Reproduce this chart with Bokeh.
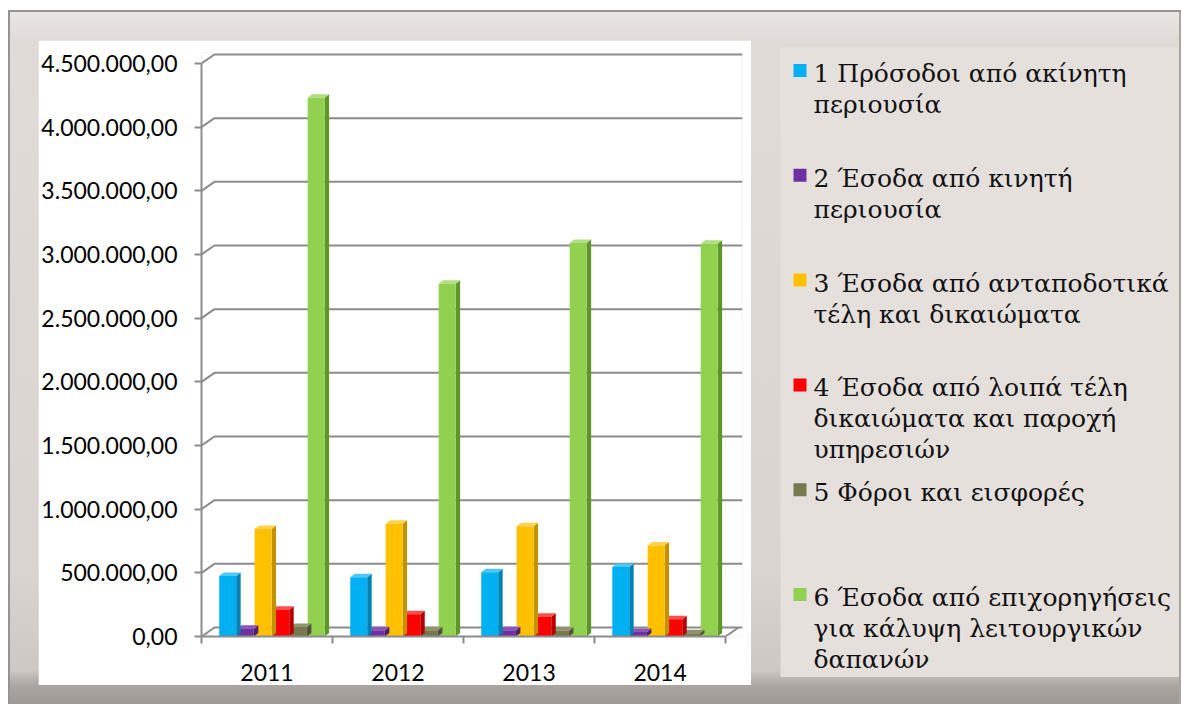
import numpy as np
from bokeh.plotting import figure
from bokeh.layouts import row, column
from bokeh.models import Range1d, FixedTicker
from bokeh.core.properties import value
from bokeh.embed import file_html
from bokeh.resources import INLINE

# ---------------- data ----------------
years = ["2011", "2012", "2013", "2014"]
series_labels = [
    "1 Πρόσοδοι από ακίνητη\nπεριουσία",
    "2 Έσοδα από κινητή\nπεριουσία",
    "3 Έσοδα από ανταποδοτικά\nτέλη και δικαιώματα",
    "4 Έσοδα από λοιπά τέλη\nδικαιώματα και παροχή\nυπηρεσιών",
    "5 Φόροι και εισφορές",
    "6 Έσοδα από επιχορηγήσεις\nγια κάλυψη λειτουργικών\nδαπανών",
]
s1_property = [475000, 465000, 505000, 545000]
s2_movable = [60000, 50000, 50000, 35000]
s3_fees = [845000, 885000, 865000, 715000]
s4_other_fees = [210000, 175000, 155000, 135000]
s5_taxes = [75000, 50000, 45000, 25000]
s6_grants = [4230000, 2770000, 3090000, 3085000]
series_values = [s1_property, s2_movable, s3_fees, s4_other_fees, s5_taxes, s6_grants]

y_ticks = [0, 500000, 1000000, 1500000, 2000000, 2500000, 3000000, 3500000, 4000000, 4500000]
y_tick_labels = ["0,00", "500.000,00", "1.000.000,00", "1.500.000,00", "2.000.000,00",
                 "2.500.000,00", "3.000.000,00", "3.500.000,00", "4.000.000,00", "4.500.000,00"]

# colours: front, side, top
front_colors = ["#00b0f0", "#7030a0", "#ffc000", "#ff0000", "#76784e", "#92d050"]
side_colors = ["#0083b4", "#4e1f72", "#c29200", "#b50000", "#50523a", "#5e9628"]
top_colors = ["#4cc8f5", "#8d55b8", "#ffd24d", "#ff4d4d", "#90926c", "#b0de80"]

# ---------------- chart figure geometry ----------------
CW, CH = 713, 645
FL, FR, FT, FB = 161, 704, 12, 596
PX_CAT = 131.5
PX_VAL = 63.67 / 500000.0

chart = figure(width=CW, height=CH, output_backend="svg", toolbar_location=None,
               x_range=Range1d(0, (FR - FL) / PX_CAT), y_range=Range1d(0, (FB - FT) / PX_VAL),
               min_border_left=FL, min_border_right=CW - FR, min_border_top=FT,
               min_border_bottom=CH - FB, margin=(30, 0, 19, 30))
chart.outline_line_color = None
chart.background_fill_color = "white"
chart.border_fill_color = "white"
chart.xgrid.visible = False
chart.ygrid.visible = False

# ---------------- 3D-ish grid ----------------
DXB = 13 / PX_CAT
DVB = 9 / PX_VAL
xend = (FR - FL) / PX_CAT
ncat = len(years)
gx = [[0, DXB, xend] for t in y_ticks]
gy = [[t, t + DVB, t + DVB] for t in y_ticks]
gx.append([ncat, ncat + DXB])
gy.append([0, DVB])
chart.multi_line(gx, gy, line_color="#8c8c8c", line_width=2)

# ---------------- bars ----------------
BW = 17 / PX_CAT
SD = 4.5 / PX_CAT
DVS = 3.5 / PX_VAL
offsets = 0.2 + 0.135 * np.arange(len(series_values))
cat_idx = np.arange(ncat)

for j in reversed(range(len(series_values))):
    vals = np.array(series_values[j], dtype=float)
    xc = cat_idx + offsets[j]
    xl = xc - BW / 2
    xr = xc + BW / 2
    side_xs = [[r, r + SD, r + SD, r] for r in xr]
    side_ys = [[0, DVS, v + DVS, v] for v in vals]
    top_xs = [[l, r, r + SD, l + SD] for l, r in zip(xl, xr)]
    top_ys = [[v, v, v + DVS, v + DVS] for v in vals]
    chart.patches(side_xs, side_ys, fill_color=side_colors[j], line_color=None)
    chart.patches(top_xs, top_ys, fill_color=top_colors[j], line_color=None)
    chart.vbar(x=xc, top=vals, bottom=0, width=BW, fill_color=front_colors[j], line_color=None)

# ---------------- axes ----------------
AX_COL = "#8c8c8c"
yax = chart.yaxis[0]
yax.ticker = FixedTicker(ticks=y_ticks)
yax.major_label_overrides = {t: l for t, l in zip(y_ticks, y_tick_labels)}
yax.bounds = (0, y_ticks[-1])
yax.axis_line_color = AX_COL
yax.axis_line_width = 2
yax.major_tick_line_color = AX_COL
yax.major_tick_line_width = 2
yax.major_tick_out = 7
yax.major_tick_in = 0
yax.minor_tick_line_color = None
yax.major_label_standoff = 17
yax.major_label_text_font = "Lato"
yax.major_label_text_font_size = "23px"
yax.major_label_text_color = "#000000"

xax = chart.xaxis[0]
centers = [i + 0.5 for i in range(ncat)]
xax.ticker = FixedTicker(ticks=centers, minor_ticks=list(range(ncat + 1)))
xax.major_label_overrides = {c: y for c, y in zip(centers, years)}
xax.bounds = (0, ncat)
xax.axis_line_color = AX_COL
xax.axis_line_width = 2
xax.major_tick_line_color = None
xax.major_tick_out = 0
xax.major_tick_in = 0
xax.minor_tick_line_color = AX_COL
xax.minor_tick_line_width = 2
xax.minor_tick_out = 7
xax.minor_tick_in = 0
xax.major_label_standoff = 20
xax.major_label_text_font = "Lato"
xax.major_label_text_font_size = "23px"
xax.major_label_text_color = "#000000"

# ---------------- legend figure ----------------
LW, LH = 399, 630
leg = figure(width=LW, height=LH, output_backend="svg", toolbar_location=None,
             x_range=Range1d(0, LW), y_range=Range1d(LH, 0),
             x_axis_type=None, y_axis_type=None, min_border=0)
leg.outline_line_color = None
leg.background_fill_color = "#e6e0dd"
leg.border_fill_color = "#e6e0dd"
leg.xgrid.visible = False
leg.ygrid.visible = False

LEG_TEXT_X = 33
LEG_SQ_X = 19.5
LEG_FIRST = 26
LEG_PITCH = 104.8
LEG_LINE = 31
txt_x, txt_y, txt = [], [], []
sq_x, sq_y = [], []
for i, lab in enumerate(series_labels):
    y0 = LEG_FIRST + i * LEG_PITCH
    sq_x.append(LEG_SQ_X)
    sq_y.append(y0 - 3)
    for k, line in enumerate(lab.split("\n")):
        txt_x.append(LEG_TEXT_X)
        txt_y.append(y0 + k * LEG_LINE)
        txt.append(line)
leg.rect(x=sq_x, y=sq_y, width=13, height=13, fill_color=front_colors, line_color=None)
leg.text(x=txt_x, y=txt_y, text=txt, text_font=value("DejaVu Serif"), text_font_size="25px",
         text_baseline="middle", text_align="left", text_color="#111111")

leg_box = column(leg, margin=(37, 2, 0, 29))

layout = row(chart, leg_box, spacing=0, margin=(10, 2, 2, 8),
             styles={"background": "linear-gradient(to bottom, #ebe7e5 0px, #e1dbd8 30px, "
                                   "#dad4d1 560px, #cdc8c4 660px, #aaa5a1 676px, #9e9995 694px)",
                     "box-shadow": "inset 2px 2px 0 #979391, inset -2px 0 0 #a9a5a1"})

open("out.html", "w").write(file_html(layout, INLINE))
